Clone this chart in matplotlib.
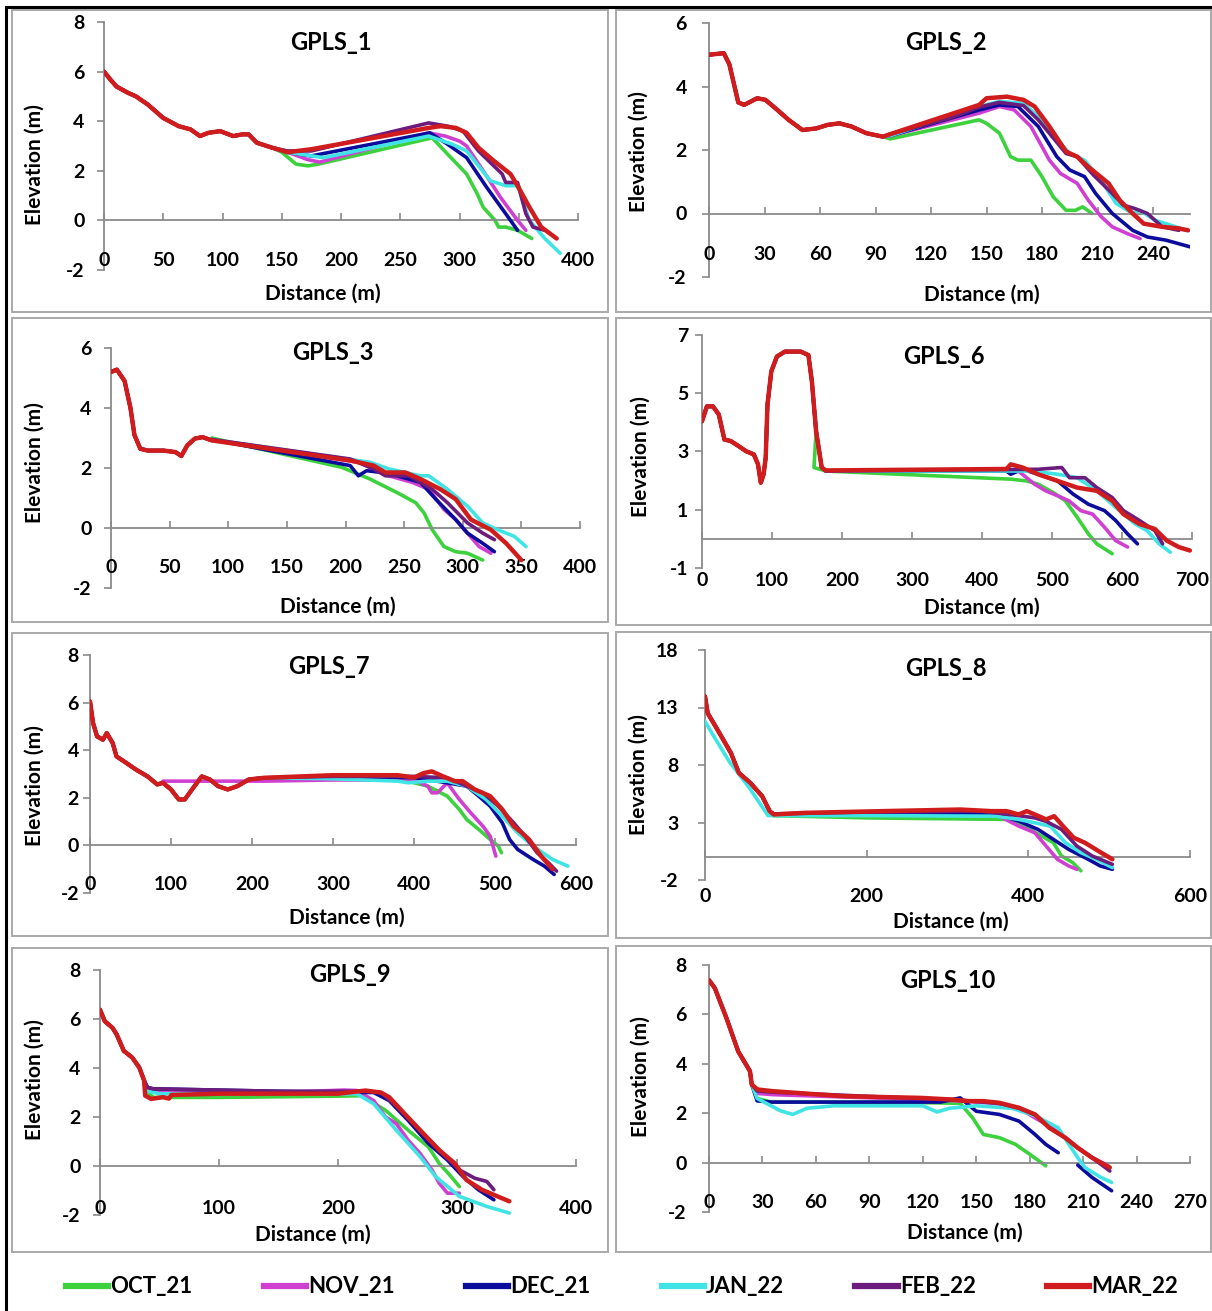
import matplotlib
matplotlib.use('Agg')
import matplotlib.pyplot as plt
from matplotlib.lines import Line2D
from matplotlib.patches import Rectangle
from matplotlib.transforms import blended_transform_factory
import numpy as np

plt.rcParams['font.family'] = ['Lato', 'DejaVu Sans']
plt.rcParams['font.weight'] = 'bold'

# ---------------- data ----------------
SERIES = ['OCT_21', 'NOV_21', 'DEC_21', 'JAN_22', 'FEB_22', 'MAR_22']
COLORS = ['#3dd23d', '#d040d0', '#0c0c9c', '#40e4e4', '#6c1c7c', '#d01c1c']
PANELS = ['GPLS_1', 'GPLS_2', 'GPLS_3', 'GPLS_6', 'GPLS_7', 'GPLS_8', 'GPLS_9', 'GPLS_10']

# GPLS_1
G1_BASE = [(0, 6.0), (5, 5.7), (10.5, 5.4), (20, 5.15), (27, 5.0), (37, 4.67), (50, 4.13), (63, 3.8),
           (73, 3.67), (81, 3.4), (88, 3.53), (98, 3.6), (109, 3.4), (117, 3.47), (122, 3.47),
           (129, 3.13), (142, 2.93)]
G1_OCT = [(150, 2.75), (162, 2.27), (172, 2.2), (181, 2.27), (277, 3.33), (290, 2.67), (306, 1.87),
          (315, 1.07), (320, 0.53), (330, 0.0), (333, -0.27), (339, -0.27), (349, -0.4), (361, -0.73)]
G1_NOV = [(155, 2.75), (172, 2.45), (182, 2.35), (274, 3.53), (288, 3.4), (300, 3.2), (306, 3.0),
          (320, 2.0), (335, 0.9), (349, 0.0), (356, -0.4)]
G1_DEC = [(155, 2.75), (175, 2.6), (275, 3.53), (290, 3.07), (306, 2.53), (323, 1.33), (339, 0.27),
          (349, -0.4)]
G1_JAN = [(155, 2.75), (185, 2.53), (274, 3.4), (294, 3.07), (306, 2.8), (326, 1.6), (339, 1.4),
          (349, 1.4), (359, 0.0), (372, -0.73), (385, -1.33)]
G1_FEB = [(155, 2.8), (175, 2.8), (274, 3.93), (290, 3.8), (303, 3.6), (316, 2.8), (336, 1.87),
          (339, 1.53), (349, 1.53), (356, 0.27), (362, -0.27), (372, -0.4)]
G1_MAR = [(155, 2.75), (175, 2.87), (274, 3.73), (284, 3.8), (297, 3.73), (306, 3.53), (316, 2.93),
          (329, 2.4), (343, 1.87), (349, 1.4), (359, 0.53), (369, -0.27), (382, -0.73)]
G1_XTICKS = [0, 50, 100, 150, 200, 250, 300, 350, 400]
G1_YTICKS = [-2, 0, 2, 4, 6, 8]

# GPLS_2
G2_BASE = [(0, 5.0), (8, 5.05), (11, 4.7), (15.8, 3.5), (19, 3.42), (26, 3.63), (30.5, 3.58), (37, 3.26),
           (43, 2.95), (50.5, 2.63), (58, 2.68), (64, 2.79), (70.5, 2.84), (77, 2.74), (85, 2.53),
           (94, 2.42)]
G2_OCT = [(98, 2.35), (146, 2.95), (150, 2.84), (157, 2.53), (163, 1.79), (167, 1.68), (174, 1.68),
          (180, 1.16), (186, 0.53), (193, 0.1), (198, 0.1), (202, 0.21), (207, 0.0)]
G2_NOV = [(98, 2.45), (146, 3.16), (157, 3.37), (165, 3.26), (174, 2.74), (184, 1.68), (190, 1.26),
          (199, 0.95), (205, 0.42), (212, -0.1), (218, -0.42), (226, -0.63), (233, -0.79)]
G2_DEC = [(98, 2.45), (146, 3.26), (157, 3.42), (167, 3.37), (178, 2.74), (188, 1.79), (195, 1.37),
          (203, 1.16), (209, 0.63), (218, 0.0), (229, -0.53), (237, -0.74), (247, -0.84), (260, -1.05)]
G2_JAN = [(98, 2.45), (146, 3.37), (157, 3.53), (170, 3.47), (178, 3.05), (188, 2.32), (195, 1.89),
          (203, 1.68), (212, 1.05), (220, 0.32), (229, 0.0), (233, 0.1), (241, -0.21), (247, -0.32),
          (258, -0.53)]
G2_FEB = [(98, 2.5), (130, 3.0), (146, 3.35), (157, 3.5), (170, 3.4), (178, 2.95), (193, 1.89),
          (199, 1.79), (208, 1.2), (218, 0.63), (224, 0.26), (230, 0.16), (237, 0.0), (245, -0.42),
          (254, -0.53)]
G2_MAR = [(98, 2.5), (146, 3.42), (150, 3.63), (161, 3.68), (170, 3.58), (176, 3.37), (184, 2.74),
          (193, 1.95), (199, 1.79), (205, 1.47), (216, 0.95), (222, 0.42), (229, 0.0), (235, -0.32),
          (245, -0.42), (254, -0.47), (259, -0.53)]
G2_XTICKS = [0, 30, 60, 90, 120, 150, 180, 210, 240]
G2_YTICKS = [-2, 0, 2, 4, 6]

# GPLS_3
G3_BASE = [(0, 5.2), (5, 5.28), (11.6, 4.9), (16.6, 4.0), (20, 3.1), (25, 2.64), (31.6, 2.58), (45, 2.58),
           (55, 2.53), (60, 2.4), (65, 2.75), (71.5, 2.98), (78, 3.03), (86, 2.92)]
G3_OCT = [(86, 3.0), (197, 2.02), (221, 1.63), (244, 1.18), (260, 0.84), (267, 0.5), (274, -0.06),
          (284, -0.62), (294, -0.79), (304, -0.84), (317, -1.07)]
G3_NOV = [(86, 2.95), (211, 2.19), (237, 1.74), (257, 1.52), (271, 1.29), (284, 0.62), (294, 0.28),
          (304, -0.17), (314, -0.62), (324, -0.84)]
G3_DEC = [(86, 2.95), (204, 2.08), (211, 1.74), (218, 1.91), (231, 1.85), (244, 1.74), (264, 1.52),
          (277, 0.96), (294, 0.28), (304, -0.17), (317, -0.51), (327, -0.79)]
G3_JAN = [(86, 2.95), (221, 2.19), (237, 1.97), (264, 1.74), (271, 1.74), (287, 1.29), (304, 0.73),
          (317, 0.17), (330, -0.06), (344, -0.28), (354, -0.62)]
G3_FEB = [(86, 2.95), (204, 2.3), (224, 1.97), (234, 1.74), (254, 1.74), (264, 1.52), (274, 1.29),
          (287, 0.84), (304, 0.17), (317, -0.17), (327, -0.39)]
G3_MAR = [(86, 2.92), (204, 2.25), (224, 2.08), (234, 1.85), (251, 1.85), (264, 1.63), (281, 1.29),
          (294, 0.96), (307, 0.28), (324, -0.06), (337, -0.51), (350, -1.07)]
G3_XTICKS = [0, 50, 100, 150, 200, 250, 300, 350, 400]
G3_YTICKS = [-2, 0, 2, 4, 6]

# GPLS_6
G6_BASE = [(0, 4.04), (7, 4.55), (15.6, 4.55), (24, 4.27), (32, 3.41), (41, 3.36), (52, 3.19), (63, 3.01),
           (74, 2.9), (80, 2.56), (84, 1.93), (88, 2.22), (91, 2.79), (93.5, 4.6), (99, 5.75),
           (107, 6.26), (118.5, 6.43), (141, 6.43), (152, 6.31), (157, 5.4), (163, 3.7)]
G6_OCT = [(160, 2.45), (177, 2.33), (441, 2.05), (464, 1.99), (480, 1.88), (502, 1.59), (519, 1.31),
          (536, 0.74), (552, 0.17), (564, -0.17), (586, -0.51)]
G6_NOV = [(171, 2.45), (177, 2.33), (452, 2.33), (475, 1.88), (491, 1.65), (508, 1.48), (524, 1.31),
          (541, 0.97), (558, 0.85), (575, 0.4), (591, -0.06), (608, -0.28)]
G6_DEC = [(171, 2.45), (177, 2.33), (435, 2.33), (441, 2.22), (458, 2.39), (480, 2.22), (508, 1.99),
          (530, 1.54), (552, 1.19), (575, 0.97), (591, 0.63), (608, 0.17), (622, -0.17)]
G6_JAN = [(171, 2.45), (177, 2.33), (469, 2.33), (508, 2.22), (536, 2.1), (564, 1.65), (591, 1.08),
          (619, 0.51), (636, 0.28), (653, -0.17), (669, -0.46)]
G6_FEB = [(171, 2.45), (177, 2.33), (480, 2.39), (514, 2.45), (525, 2.1), (547, 2.1), (564, 1.76),
          (586, 1.42), (602, 0.97), (625, 0.63), (647, 0.28), (658, -0.17)]
G6_MAR = [(171, 2.45), (177, 2.35), (435, 2.4), (441, 2.56), (458, 2.45), (480, 2.22), (508, 1.99),
          (536, 1.76), (564, 1.65), (586, 1.31), (602, 0.85), (625, 0.51), (647, 0.34), (664, -0.06),
          (681, -0.28), (697, -0.4)]
G6_XTICKS = [0, 100, 200, 300, 400, 500, 600, 700]
G6_YTICKS = [-1, 1, 3, 5, 7]

# GPLS_7
G7_BASE = [(0, 6.05), (3.8, 5.14), (8.7, 4.58), (16, 4.44), (20.7, 4.72), (28, 4.3), (32.7, 3.74),
           (42, 3.53), (57, 3.18), (71, 2.9), (83, 2.56), (90, 2.63)]
G7_DIP = [(100, 2.35), (109.6, 1.93), (117, 1.93), (129, 2.49), (138, 2.9), (148, 2.77), (158, 2.49),
          (170, 2.35), (182, 2.49), (196, 2.77), (215, 2.84)]
G7_OCT = [(300, 2.8), (380, 2.8), (417, 2.49), (441, 2.07), (456, 1.51), (465, 1.09), (480, 0.67),
          (494, 0.25), (504, -0.03), (508, -0.31)]
G7_NOV = [(90, 2.7), (215, 2.7), (300, 2.75), (400, 2.75), (417, 2.49), (422, 2.21), (429, 2.21),
          (441, 2.63), (456, 1.93), (470, 1.37), (485, 0.81), (494, 0.39), (501, -0.45)]
G7_DEC = [(300, 2.85), (400, 2.85), (441, 2.63), (465, 2.49), (480, 2.07), (494, 1.65), (509, 0.95),
          (518, 0.25), (528, -0.17), (547, -0.59), (561, -0.87), (573, -1.22)]
G7_JAN = [(300, 2.8), (380, 2.7), (393, 2.63), (417, 2.7), (441, 2.7), (465, 2.49), (489, 1.93),
          (509, 1.23), (528, 0.53), (547, -0.03), (571, -0.59), (590, -0.87)]
G7_FEB = [(300, 2.9), (400, 2.9), (441, 2.84), (465, 2.49), (485, 2.21), (504, 1.65), (523, 0.95),
          (537, 0.39), (552, -0.31), (566, -0.73), (576, -1.08)]
G7_MAR = [(300, 2.95), (380, 2.95), (400, 2.85), (412, 3.04), (422, 3.11), (436, 2.9), (450, 2.7),
          (460, 2.7), (475, 2.35), (494, 2.07), (509, 1.51), (523, 0.81), (533, 0.53), (542, 0.25),
          (557, -0.45), (571, -1.0)]
G7_XTICKS = [0, 100, 200, 300, 400, 500, 600]
G7_YTICKS = [-2, 0, 2, 4, 6, 8]

# GPLS_8
G8_BASE = [(0, 13.96), (3.4, 12.5), (13, 11.36), (22.6, 10.2), (32, 9.05), (42, 7.3), (56, 6.45),
           (70.7, 5.29), (80, 3.99), (85, 3.7)]
G8_OCT = [(85, 3.6), (200, 3.4), (373, 3.27), (402, 2.4), (431, 1.24), (441, 0.09), (455, -0.49),
          (465, -1.2)]
G8_NOV = [(85, 3.7), (200, 3.7), (360, 3.7), (388, 2.69), (408, 2.11), (422, 0.95), (436, -0.2),
          (450, -0.78), (460, -1.07)]
G8_DEC = [(85, 3.7), (200, 3.75), (360, 3.75), (388, 3.12), (412, 2.4), (431, 1.53), (450, 0.66),
          (474, -0.2), (489, -0.78), (504, -1.07)]
G8_JAN = [(0, 11.8), (10, 10.6), (30, 8.3), (55, 6.0), (78, 3.6), (200, 3.6), (360, 3.55), (388, 3.27),
          (427, 2.69), (446, 1.24), (465, 0.38), (484, -0.2), (504, -0.92)]
G8_FEB = [(85, 3.75), (200, 3.9), (340, 4.0), (388, 3.6), (408, 3.4), (422, 3.1), (441, 2.4),
          (460, 0.95), (479, 0.09), (504, -0.64)]
G8_MAR = [(85, 3.7), (124, 3.84), (220, 3.99), (316, 4.13), (354, 3.99), (373, 3.99), (388, 3.7),
          (398, 3.99), (408, 3.7), (422, 3.27), (432, 3.55), (441, 2.83), (456, 1.68), (470, 1.24),
          (490, 0.38), (504, -0.2)]
G8_XTICKS = [0, 200, 400, 600]
G8_YTICKS = [-2, 3, 8, 13, 18]

# GPLS_9
G9_BASE = [(0, 6.38), (4, 5.91), (10.5, 5.64), (14, 5.37), (20, 4.7), (27, 4.43), (33, 4.02), (37, 3.5)]
G9_OCT = [(40, 3.0), (45, 2.8), (100, 2.8), (200, 2.85), (220, 2.87), (240, 2.27), (259, 1.46),
          (276, 0.78), (285, 0.11), (295, -0.43), (302, -0.84)]
G9_NOV = [(40, 3.1), (50, 3.05), (150, 3.0), (205, 3.1), (216, 3.08), (230, 2.67), (240, 2.0),
          (249, 1.73), (259, 1.05), (269, 0.51), (279, -0.16), (285, -0.7), (292, -1.11), (302, -1.11)]
G9_DEC = [(40, 3.2), (45, 3.15), (150, 3.05), (220, 3.0), (230, 3.0), (243, 2.67), (259, 1.86),
          (276, 0.92), (292, 0.24), (305, -0.43), (318, -0.97), (331, -1.38)]
G9_JAN = [(40, 3.05), (50, 2.95), (150, 2.95), (216, 2.94), (230, 2.54), (249, 1.46), (269, 0.38),
          (282, -0.43), (302, -1.24), (325, -1.65), (344, -1.92)]
G9_FEB = [(40, 3.2), (45, 3.15), (150, 3.05), (220, 3.05), (236, 3.0), (253, 2.27), (269, 1.46),
          (285, 0.65), (302, -0.16), (315, -0.5), (325, -0.63), (331, -0.97)]
G9_MAR = [(38, 2.87), (43, 2.74), (53, 2.81), (58, 2.75), (60, 2.9), (100, 2.95), (200, 2.95),
          (223, 3.08), (236, 3.0), (243, 2.81), (256, 2.13), (269, 1.46), (285, 0.65), (298, 0.11),
          (308, -0.57), (321, -0.97), (334, -1.24), (344, -1.44)]
G9_XTICKS = [0, 100, 200, 300, 400]
G9_YTICKS = [-2, 0, 2, 4, 6, 8]

# GPLS_10
G10_BASE = [(0, 7.39), (3.3, 7.06), (9.8, 5.85), (16.4, 4.5), (20.8, 3.97), (23, 3.7), (24, 3.16)]
G10_OCT = [(27, 2.6), (35, 2.45), (100, 2.45), (141, 2.4), (148, 1.81), (154, 1.14), (163, 1.01),
           (172, 0.74), (180, 0.34), (189, -0.13)]
G10_NOV = [(27, 2.8), (36, 2.75), (100, 2.6), (140, 2.5), (160, 2.4), (174, 2.2), (183, 1.81),
           (191, 1.48), (200, 1.0), (207, 0.6), (215, 0.2), (224, -0.13)]
G10_DEC = [(27, 2.5), (35, 2.45), (130, 2.45), (141, 2.62), (150, 2.08), (163, 1.95), (174, 1.68),
           (183, 1.14), (189, 0.74), (196, 0.4), (np.nan, np.nan), (207, -0.1), (215, -0.6), (226, -1.14)]
G10_JAN = [(27, 2.6), (40, 2.1), (47, 1.95), (55, 2.2), (70, 2.3), (120, 2.3), (128, 2.05), (135, 2.2),
           (150, 2.3), (170, 2.2), (183, 1.9), (196, 1.41), (202, 0.74), (207, 0.2), (211, -0.2),
           (220, -0.6), (226, -0.8)]
G10_FEB = [(27, 2.9), (36, 2.85), (100, 2.65), (137, 2.55), (163, 2.4), (174, 2.2), (183, 1.95),
           (191, 1.41), (200, 1.0), (207, 0.6), (215, 0.2), (225, -0.34)]
G10_MAR = [(27.3, 2.96), (36, 2.89), (75, 2.69), (119, 2.62), (137, 2.55), (145, 2.49), (154, 2.49),
           (163, 2.42), (174, 2.22), (183, 1.95), (191, 1.41), (200, 1.01), (207, 0.6), (215, 0.2),
           (225, -0.2)]
G10_XTICKS = [0, 30, 60, 90, 120, 150, 180, 210, 240, 270]
G10_YTICKS = [-2, 0, 2, 4, 6, 8]

# axis limits (xmax, ymin, ymax)
LIMITS = [(400, -2, 8), (260, -2, 6), (400, -2, 6), (700, -1, 7),
          (600, -2, 8), (600, -2, 18), (400, -2, 8), (270, -2, 8)]

# ---------------- layout (pixels) ----------------
W, H = 1212, 1311
LAYOUT = [
    dict(box=(104, 578, 22, 270), title=(331, 42), xl=(323, 294), yl=(35, 165), xt=260, pad=9),
    dict(box=(709, 1190, 23, 277), title=(946, 43), xl=(982, 295), yl=(639, 152), xt=255, pad=11),
    dict(box=(111, 580, 348, 588), title=(333, 353), xl=(338, 607), yl=(35, 463), xt=568, pad=9),
    dict(box=(702, 1192, 335, 568), title=(944, 357), xl=(982, 608), yl=(641, 457), xt=580, pad=5),
    dict(box=(90, 576, 655, 893), title=(329, 667), xl=(347, 918), yl=(35, 786), xt=885, pad=3),
    dict(box=(705, 1190, 650, 880), title=(946, 668), xl=(951, 922), yl=(639, 775), xt=897, pad=14),
    dict(box=(100, 576, 970, 1215), title=(350, 975), xl=(313, 1235), yl=(35, 1080), xt=1208, pad=9),
    dict(box=(709, 1190, 965, 1212), title=(948, 980), xl=(965, 1233), yl=(641, 1077), xt=1203, pad=11),
]
FRAMES = [(12, 608, 10, 312), (616, 1211, 10, 312), (12, 608, 318, 622), (616, 1211, 318, 625),
          (12, 608, 633, 936), (616, 1211, 632, 938), (12, 608, 948, 1252), (616, 1211, 946, 1252)]

PANEL_SERIES = [
    (G1_BASE, [G1_OCT, G1_NOV, G1_DEC, G1_JAN, G1_FEB, G1_MAR], G1_XTICKS, G1_YTICKS),
    (G2_BASE, [G2_OCT, G2_NOV, G2_DEC, G2_JAN, G2_FEB, G2_MAR], G2_XTICKS, G2_YTICKS),
    (G3_BASE, [G3_OCT, G3_NOV, G3_DEC, G3_JAN, G3_FEB, G3_MAR], G3_XTICKS, G3_YTICKS),
    (G6_BASE, [G6_OCT, G6_NOV, G6_DEC, G6_JAN, G6_FEB, G6_MAR], G6_XTICKS, G6_YTICKS),
    (G7_BASE, [G7_DIP + G7_OCT, G7_NOV, G7_DIP + G7_DEC, G7_DIP + G7_JAN, G7_DIP + G7_FEB,
               G7_DIP + G7_MAR], G7_XTICKS, G7_YTICKS),
    (G8_BASE, [G8_OCT, G8_NOV, G8_DEC, G8_JAN, G8_FEB, G8_MAR], G8_XTICKS, G8_YTICKS),
    (G9_BASE, [G9_OCT, G9_NOV, G9_DEC, G9_JAN, G9_FEB, G9_MAR], G9_XTICKS, G9_YTICKS),
    (G10_BASE, [G10_OCT, G10_NOV, G10_DEC, G10_JAN, G10_FEB, G10_MAR], G10_XTICKS, G10_YTICKS),
]

AXIS_COLOR = '#8a8a8a'

fig = plt.figure(figsize=(W / 100, H / 100), dpi=100)
fig.patch.set_facecolor('white')


def fx(px):
    return px / W


def fy(py):
    return 1 - py / H


for (x0, x1, y0, y1) in FRAMES:
    fig.add_artist(Rectangle((fx(x0), fy(y1)), fx(x1) - fx(x0), fy(y0) - fy(y1),
                             transform=fig.transFigure, fill=False, edgecolor='#a9a9a9', lw=1.4))

fig.add_artist(Line2D([fx(6), fx(6)], [0, fy(7)], transform=fig.transFigure, color='black', lw=2.2))
fig.add_artist(Line2D([fx(6), 1], [fy(7), fy(7)], transform=fig.transFigure, color='black', lw=2.2))

for i, name in enumerate(PANELS):
    lay = LAYOUT[i]
    base, tails, xticks, yticks = PANEL_SERIES[i]
    xmax, ymin, ymax = LIMITS[i]
    l, r, t, b = lay['box']
    ax = fig.add_axes([fx(l), fy(b), fx(r) - fx(l), fy(t) - fy(b)])
    ax.set_facecolor('none')
    for k, tail in enumerate(tails):
        pts = tail if tail[0][0] == 0 else base + tail
        xs = [p[0] for p in pts]
        ys = [p[1] for p in pts]
        lw = 3.2 if k == 5 else 2.6
        ax.plot(xs, ys, color=COLORS[k], lw=lw, solid_joinstyle='round',
                solid_capstyle='round', zorder=2 + k)
    ax.set_xlim(0, xmax)
    ax.set_ylim(ymin, ymax)
    ax.spines['top'].set_visible(False)
    ax.spines['right'].set_visible(False)
    ax.spines['left'].set_color(AXIS_COLOR)
    ax.spines['left'].set_linewidth(1.3)
    ax.spines['bottom'].set_position(('data', 0))
    ax.spines['bottom'].set_color(AXIS_COLOR)
    ax.spines['bottom'].set_linewidth(1.3)
    ax.set_yticks(yticks)
    ax.set_yticklabels([str(v) for v in yticks])
    ax.tick_params(axis='y', direction='out', length=5, width=1.2, color=AXIS_COLOR,
                   labelsize=14, pad=lay['pad'])
    ax.set_xticks(xticks)
    ax.tick_params(axis='x', direction='in', length=5, width=1.2, color=AXIS_COLOR,
                   labelbottom=False)
    trans = blended_transform_factory(ax.transData, fig.transFigure)
    for v in xticks:
        ax.text(v, fy(lay['xt']), str(v), transform=trans, ha='center', va='center',
                fontsize=14, fontweight='bold', clip_on=False)
    fig.text(fx(lay['title'][0]), fy(lay['title'][1]), name, ha='center', va='center',
             fontsize=17, fontweight='bold')
    fig.text(fx(lay['xl'][0]), fy(lay['xl'][1]), 'Distance (m)', ha='center', va='center',
             fontsize=15, fontweight='bold')
    fig.text(fx(lay['yl'][0]), fy(lay['yl'][1]), 'Elevation (m)', ha='center', va='center',
             rotation=90, fontsize=15, fontweight='bold')

leg_handles = [Line2D([0], [0], color=c, lw=4.5) for c in COLORS]
fig.legend(leg_handles, SERIES, loc='center', bbox_to_anchor=(fx(622), fy(1287)), ncol=6,
           frameon=False, prop={'size': 16, 'weight': 'bold'}, handlelength=1.9,
           handletextpad=0.1, columnspacing=3.2, borderpad=0.2)

fig.savefig('out.png', dpi=100, facecolor='white')
